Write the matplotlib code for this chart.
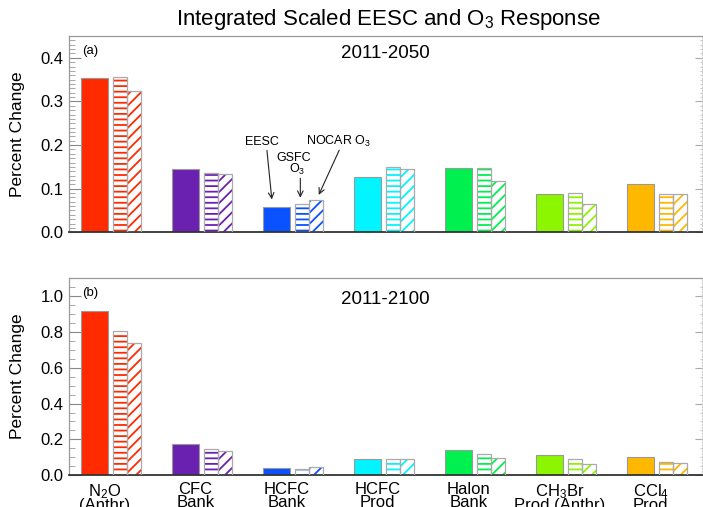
import numpy as np
import matplotlib.pyplot as plt
from matplotlib.ticker import MultipleLocator

plt.rcParams['font.family'] = ['Liberation Sans', 'DejaVu Sans']
plt.rcParams['mathtext.default'] = 'regular'
plt.rcParams['hatch.linewidth'] = 1.3

species = ['N$_2$O\n(Anthr)', 'CFC\nBank', 'HCFC\nBank', 'HCFC\nProd',
           'Halon\nBank', 'CH$_3$Br\nProd (Anthr)', 'CCl$_4$\nProd']
colors = ['#ff2a00', '#6b21b0', '#0a52ff', '#00f5ff', '#00f050', '#8cf500', '#ffb800']

# 2011-2050
eesc_2050 = [0.354, 0.144, 0.059, 0.127, 0.147, 0.088, 0.111]
gsfc_2050 = [0.356, 0.137, 0.066, 0.150, 0.147, 0.091, 0.088]
nocar_2050 = [0.323, 0.134, 0.075, 0.144, 0.117, 0.066, 0.088]

# 2011-2100
eesc_2100 = [0.918, 0.174, 0.039, 0.092, 0.140, 0.112, 0.101]
gsfc_2100 = [0.806, 0.146, 0.036, 0.092, 0.120, 0.092, 0.073]
nocar_2100 = [0.740, 0.133, 0.045, 0.090, 0.095, 0.065, 0.067]

W, H = 703, 507
fig = plt.figure(figsize=(W / 100, H / 100), dpi=100)
ax1 = fig.add_axes([69 / W, 1 - 232.3 / H, 633 / W, 196.3 / H])
ax2 = fig.add_axes([69 / W, 1 - 475.3 / H, 633 / W, 197.3 / H])

x = np.arange(len(species))
SOLID_W, HATCH_W = 0.297, 0.154


def draw_panel(ax, eesc, gsfc, nocar, ymax, major, minor, tag, period, tag_dy, period_dy):
    ax.bar(x, eesc, width=SOLID_W, align='edge', color=colors,
           edgecolor='#999999', linewidth=0.8, zorder=2)
    for vals, off, hatch in ((gsfc, 0.352, '---'), (nocar, 0.352 + HATCH_W, '///')):
        ax.bar(x + off, vals, width=HATCH_W, align='edge', color='white',
               edgecolor=colors, linewidth=0, hatch=hatch, zorder=2)
        ax.bar(x + off, vals, width=HATCH_W, align='edge', fill=False,
               edgecolor='#aaaaaa', linewidth=0.9, zorder=3)

    ax.set_xlim(-0.132, 6.824)
    ax.set_ylim(0, ymax)
    ax.yaxis.set_major_locator(MultipleLocator(major))
    ax.yaxis.set_minor_locator(MultipleLocator(minor))
    ax.yaxis.set_major_formatter(lambda v, p: f'{v:.1f}')
    ax.tick_params(axis='y', which='major', direction='in', length=8.6, width=0.8,
                   color='#888888', labelsize=12, pad=4)
    ax.tick_params(axis='y', which='minor', direction='in', length=4.3, width=0.6,
                   color='#999999')

    sec = ax.secondary_yaxis('right')
    sec.yaxis.set_major_locator(MultipleLocator(major))
    sec.yaxis.set_minor_locator(MultipleLocator(minor))
    sec.tick_params(which='major', direction='in', length=5, width=0.8, color='#aaaaaa',
                    labelright=False)
    sec.tick_params(which='minor', direction='in', length=1.8, width=0.6, color='#bbbbbb')
    sec.spines['right'].set_color('#cccccc')
    sec.spines['right'].set_linestyle(':')

    for side in ('top', 'left'):
        ax.spines[side].set_color('#999999')
        ax.spines[side].set_linewidth(0.9)
    ax.spines['right'].set_visible(False)
    ax.spines['bottom'].set_color('#333333')
    ax.spines['bottom'].set_linewidth(1.3)

    ax.set_ylabel('Percent Change', fontsize=12.5)
    ax.yaxis.set_label_coords(-44 / 633, 0.5)

    ax_h = ax.get_position().height * H
    ax.text(13 / 633, 1 - tag_dy / ax_h, tag, transform=ax.transAxes,
            ha='left', va='center', fontsize=9.5)
    ax.text(0.5, 1 - period_dy / ax_h, period, transform=ax.transAxes,
            ha='center', va='center', fontsize=13.5)


draw_panel(ax1, eesc_2050, gsfc_2050, nocar_2050, 0.45, 0.1, 0.01, '(a)', '2011-2050', 15, 17)
draw_panel(ax2, eesc_2100, gsfc_2100, nocar_2100, 1.1, 0.2, 0.05, '(b)', '2011-2100', 15, 22)

ax1.set_xticks([])
ax2.set_xticks(x + 0.26)
ax2.set_xticklabels(species, fontsize=12)
ax2.tick_params(axis='x', length=0, pad=5)
for lbl in ax2.get_xticklabels():
    lbl.set_linespacing(0.78)

# labels for the three bar types
arrow = dict(arrowstyle='->', color='#222222', lw=0.8)
ax1.text(1.99, 0.208, 'EESC', ha='center', va='center', fontsize=9)
ax1.annotate('', xy=(2.10, 0.069), xytext=(2.04, 0.194), arrowprops=arrow)
ax1.text(2.34, 0.1705, 'GSFC', ha='center', va='center', fontsize=9)
ax1.text(2.38, 0.143, 'O$_3$', ha='center', va='center', fontsize=9)
ax1.annotate('', xy=(2.41, 0.073), xytext=(2.41, 0.130), arrowprops=arrow)
ax1.text(2.83, 0.208, 'NOCAR O$_3$', ha='center', va='center', fontsize=9)
ax1.annotate('', xy=(2.60, 0.080), xytext=(2.85, 0.194), arrowprops=arrow)

fig.text(388 / W, 1 - 20 / H, 'Integrated Scaled EESC and O$_3$ Response',
         ha='center', va='center', fontsize=16)

fig.savefig('out.png', dpi=100)
